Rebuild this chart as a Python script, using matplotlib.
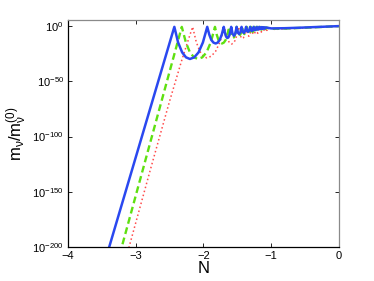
import numpy as np
import matplotlib
matplotlib.use('Agg')
import matplotlib.pyplot as plt

# values: N and log10(m_nu / m_nu^(0))
blue_n = [-3.50, -2.43,
          -2.375, -2.315, -2.258, -2.20, -2.136, -2.072, -2.008, -1.944,
          -1.914, -1.884, -1.852, -1.82, -1.79, -1.76, -1.73, -1.70,
          -1.686, -1.672, -1.658, -1.645, -1.632, -1.618, -1.604, -1.59,
          -1.57, -1.55, -1.53, -1.51,
          -1.492, -1.474, -1.455, -1.437,
          -1.42, -1.404, -1.387, -1.37,
          -1.355, -1.34, -1.325, -1.31,
          -1.297, -1.285, -1.272, -1.26,
          -1.249, -1.2375, -1.226, -1.215,
          -1.195, -1.175, -1.1575, -1.14, -1.125, -1.11, -1.095, -1.08,
          -1.0, -0.8, -0.6, -0.4, -0.2, 0.0]
blue_log = [-222, -1,
            -15, -24, -28.5, -30, -28.5, -24, -15, -1,
            -8, -12.8, -15.2, -16, -15.2, -12.8, -8, -1,
            -5.6, -8.8, -10.5, -11, -10.5, -8.8, -5.6, -1,
            -7.2, -9, -7.2, -1,
            -6, -7.5, -6, -1,
            -5.2, -6.5, -5.2, -1,
            -4.4, -5.5, -4.4, -1,
            -3.9, -4.7, -3.9, -1,
            -3.4, -4, -3.4, -1,
            -3.5, -1, -3.0, -1.2, -2.8, -1.3, -2.6, -1.5,
            -2.4, -2.2, -1.8, -1.3, -0.8, -0.3]

green_n = [-3.32, -2.32,
           -2.26, -2.20, -2.14, -2.08, -2.017, -1.955, -1.892, -1.83,
           -1.804, -1.778, -1.751, -1.725, -1.699, -1.672, -1.646, -1.62,
           -1.606, -1.592, -1.579, -1.565, -1.551, -1.538, -1.524, -1.51,
           -1.49, -1.47, -1.45, -1.43,
           -1.4125, -1.395, -1.3775, -1.36,
           -1.345, -1.33, -1.315, -1.30,
           -1.286, -1.2725, -1.259, -1.245,
           -1.2225, -1.20, -1.18, -1.16, -1.1425, -1.125, -1.11, -1.095,
           -1.0825, -1.07,
           -1.0, -0.8, -0.6, -0.4, -0.2, 0.0]
green_log = [-225, -1,
             -15, -24, -28.5, -30, -28.5, -24, -15, -1,
             -8, -12.8, -15.2, -16, -15.2, -12.8, -8, -1,
             -5.6, -8.8, -10.5, -11, -10.5, -8.8, -5.6, -1,
             -7.2, -9, -7.2, -1,
             -6, -7.5, -6, -1,
             -5.2, -6.5, -5.2, -1,
             -4.4, -5.5, -4.4, -1,
             -4.7, -1, -4, -1.1, -3.5, -1.2, -3.2, -1.4,
             -3.0, -1.6,
             -2.8, -2.5, -2.0, -1.5, -0.9, -0.4]

red_n = [-3.20, -3.10, -2.78, -2.50, -2.32, -2.22, -2.16,
         -2.107, -2.055, -2.002, -1.95, -1.885, -1.82, -1.755, -1.69,
         -1.664, -1.637, -1.611, -1.585, -1.559, -1.532, -1.506, -1.48,
         -1.466, -1.4525, -1.439, -1.425, -1.411, -1.3975, -1.384, -1.37,
         -1.35, -1.33, -1.31, -1.29,
         -1.274, -1.2575, -1.241, -1.225,
         -1.211, -1.1975, -1.184, -1.17,
         -1.145, -1.12, -1.10, -1.08, -1.0625, -1.045, -1.03, -1.015,
         -0.95, -0.8, -0.6, -0.4, -0.2, 0.0]
red_log = [-222, -200, -129, -68, -31, -12, -1,
           -14.5, -23, -27.5, -29, -27.5, -23, -14.5, -1,
           -8.3, -13.2, -15.7, -16.5, -15.7, -13.2, -8.3, -1,
           -5.8, -9.2, -11, -11.5, -11, -9.2, -5.8, -1,
           -7.6, -9.5, -7.6, -1,
           -6.4, -8, -6.4, -1,
           -5.4, -6.8, -5.4, -1.1,
           -5.7, -1.2, -4.8, -1.4, -4.2, -1.6, -3.8, -1.8,
           -3.3, -2.8, -2.2, -1.6, -1.0, -0.5]

x_ticks = [-4, -3, -2, -1, 0]
y_ticks = [1e-200, 1e-150, 1e-100, 1e-50, 1e0]

plt.rcParams['font.family'] = ['Liberation Sans', 'DejaVu Sans']
plt.rcParams['mathtext.fontset'] = 'custom'
plt.rcParams['mathtext.rm'] = 'Liberation Sans'
plt.rcParams['mathtext.it'] = 'Liberation Sans:italic'
plt.rcParams['mathtext.default'] = 'regular'

fig = plt.figure(figsize=(3.74, 2.81), dpi=100, facecolor='white')
ax = fig.add_axes([0.182, 0.120, 0.724, 0.808])

ax.semilogy(red_n, 10.0 ** np.array(red_log), color='#ff4a4a',
            linewidth=1.1, linestyle=(0, (1, 1.7)))
ax.semilogy(green_n, 10.0 ** np.array(green_log), color='#5ee010',
            linewidth=1.7, linestyle=(0, (2.9, 1.6)))
ax.semilogy(blue_n, 10.0 ** np.array(blue_log), color='#2a48f0',
            linewidth=1.8)

ax.set_xlim(-4, 0)
ax.set_ylim(1e-200, 1e5)
ax.set_xticks(x_ticks)
ax.set_yticks(y_ticks)
ax.yaxis.set_minor_locator(matplotlib.ticker.NullLocator())
ax.tick_params(axis='both', which='major', direction='in', length=3,
               width=0.6, labelsize=8, top=True, right=True, pad=3)

ax.spines['left'].set_color('black')
ax.spines['bottom'].set_color('black')
ax.spines['top'].set_color('#8a8a8a')
ax.spines['right'].set_color('#8a8a8a')
for s in ax.spines.values():
    s.set_linewidth(0.9)

ax.set_xlabel('N', fontsize=12, labelpad=0)
ax.set_ylabel(r'$m_\nu/m_\nu^{(0)}$', fontsize=12, labelpad=2)

fig.savefig('out.png', dpi=100, facecolor='white')
